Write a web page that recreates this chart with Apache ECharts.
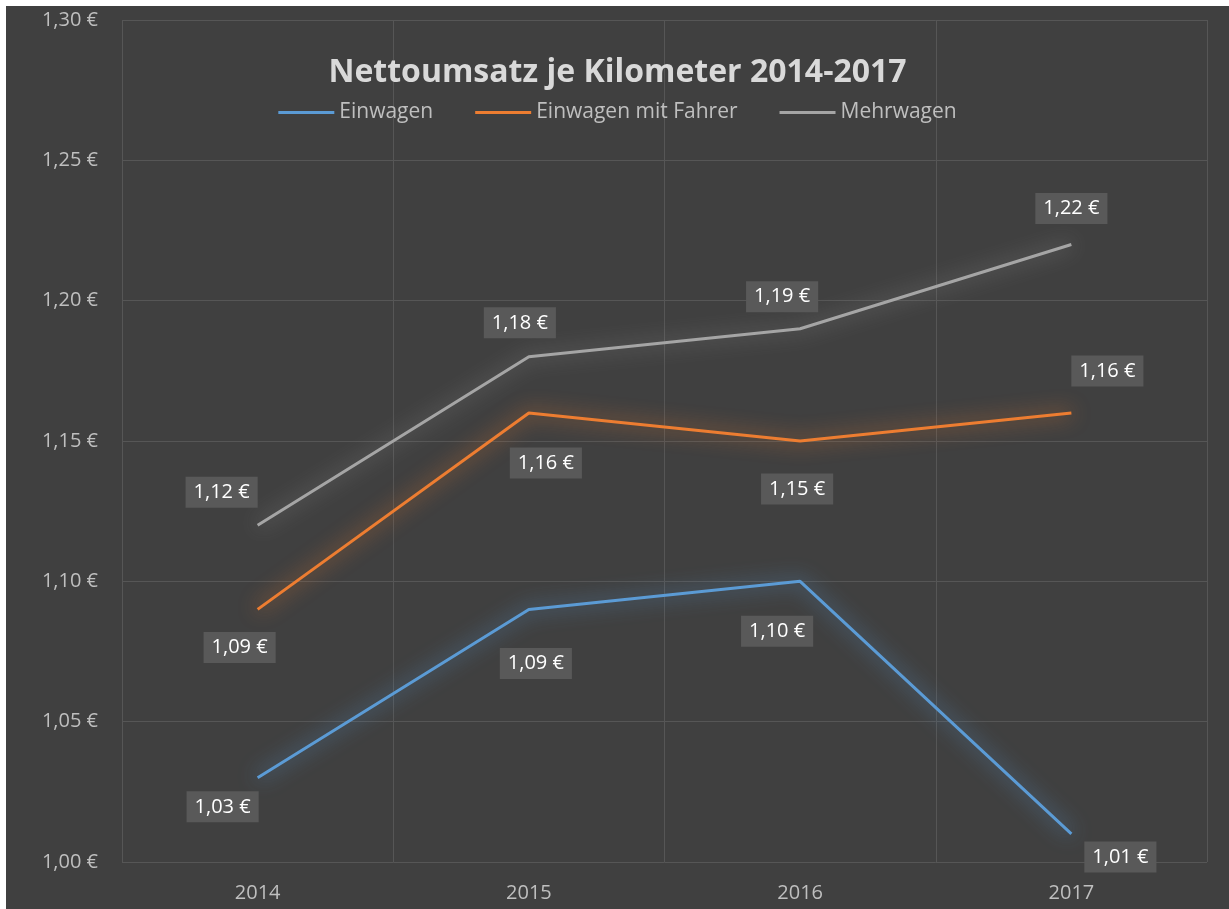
<!DOCTYPE html>
<html>
<head>
<meta charset="utf-8">
<title>Nettoumsatz je Kilometer</title>
<script src="https://cdn.jsdelivr.net/npm/echarts@6/dist/echarts.min.js"></script>
<style>
  html, body { margin: 0; padding: 0; background: #ffffff; }
  #chart { position: absolute; left: 6px; top: 6px; width: 1223px; height: 903px; }
</style>
</head>
<body>
<div id="chart"></div>
<script>
// Daten
var years = ['2014', '2015', '2016', '2017'];
var einwagen = [1.03, 1.09, 1.10, 1.01];
var einwagenFahrer = [1.09, 1.16, 1.15, 1.16];
var mehrwagen = [1.12, 1.18, 1.19, 1.22];

// Verschiebung der Datenbeschriftungen (px), wie im Original gesetzt
var offsEin = [[-35, 29], [7, 54], [-23, 50], [49, 23]];
var offsFahrer = [[-18, 38], [17, 50], [-3, 48], [36, -42]];
var offsMehr = [[-36, -33], [-9, -34], [-18, -32], [0, -36]];

var fontName = '"Open Sans", "Noto Sans", sans-serif';

function euro(v) {
	return v.toFixed(2).replace('.', ',') + ' €';
}

function withLabels(values, offs) {
	return values.map(function (v, i) {
		return { value: v, label: { offset: offs[i] } };
	});
}

function lineSeries(name, color, glow, values, offs) {
	return {
		name: name,
		type: 'line',
		symbol: 'circle',
		symbolSize: 0,
		showSymbol: true,
		data: withLabels(values, offs),
		lineStyle: {
			color: color,
			width: 3,
			shadowColor: glow,
			shadowBlur: 20
		},
		itemStyle: { color: color },
		label: {
			show: true,
			position: 'inside',
			color: '#ffffff',
			fontFamily: fontName,
			fontSize: 20,
			backgroundColor: '#595959',
			padding: [6, 8, 5, 8],
			formatter: function (p) { return euro(p.value); }
		},
		emphasis: { disabled: true }
	};
}

var chart = echarts.init(document.getElementById('chart'));

var option = {
	backgroundColor: '#404040',
	animation: false,
	title: {
		text: 'Nettoumsatz je Kilometer 2014-2017',
		left: 'center',
		top: 46,
		textStyle: {
			color: '#d9d9d9',
			fontFamily: fontName,
			fontWeight: 'bold',
			fontSize: 32
		}
	},
	legend: {
		top: 91,
		left: 'center',
		icon: 'rect',
		itemWidth: 56,
		itemHeight: 3,
		itemGap: 42,
		textStyle: {
			color: '#bfbfbf',
			fontFamily: fontName,
			fontSize: 21
		},
		data: ['Einwagen', 'Einwagen mit Fahrer', 'Mehrwagen']
	},
	grid: {
		left: 116,
		right: 22,
		top: 14,
		bottom: 47
	},
	xAxis: {
		type: 'category',
		data: years,
		boundaryGap: true,
		axisLine: { show: false },
		axisTick: { show: false },
		axisLabel: {
			color: '#bfbfbf',
			fontFamily: fontName,
			fontSize: 20,
			margin: 21
		},
		splitLine: {
			show: true,
			lineStyle: { color: '#565656', width: 1 }
		}
	},
	yAxis: {
		type: 'value',
		min: 1.00,
		max: 1.30,
		interval: 0.05,
		axisLine: { show: false },
		axisTick: { show: false },
		axisLabel: {
			color: '#bfbfbf',
			fontFamily: fontName,
			fontSize: 20,
			margin: 24,
			formatter: function (v) { return euro(v); }
		},
		splitLine: {
			lineStyle: { color: '#565656', width: 1 }
		}
	},
	series: [
		lineSeries('Einwagen', '#5b9bd5', 'rgba(91,155,213,1)', einwagen, offsEin),
		lineSeries('Einwagen mit Fahrer', '#ed7d31', 'rgba(237,125,49,1)', einwagenFahrer, offsFahrer),
		lineSeries('Mehrwagen', '#a5a5a5', 'rgba(165,165,165,0.8)', mehrwagen, offsMehr)
	]
};

chart.setOption(option);
</script>
</body>
</html>
